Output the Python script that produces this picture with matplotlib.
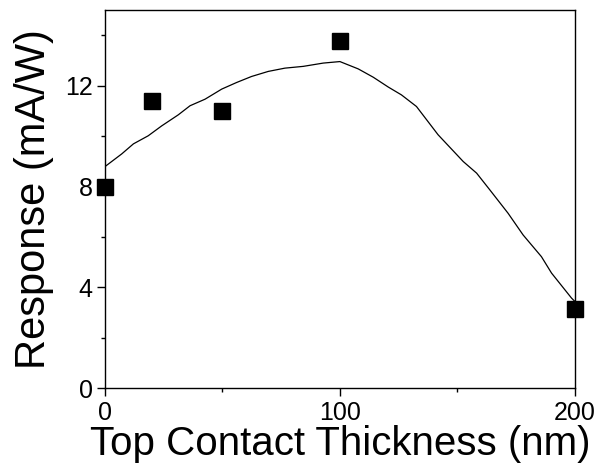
import numpy as np
import matplotlib.pyplot as plt
from matplotlib.ticker import MultipleLocator

# measured points
thick = [0, 20, 50, 100, 200]
resp = [8.0, 11.4, 11.0, 13.75, 3.15]

# model curve
curve_x = [0, 7.1, 12.1, 18.4, 24.1, 31.2, 36.2, 42.6, 49.7, 56.0, 62.4, 69.5,
           76.6, 84.4, 92.9, 100, 107.8, 114.2, 120.6, 126.2, 132.6, 141.8,
           152.5, 158.2, 163.8, 171.6, 178.0, 185.8, 190.1, 198.6, 200]
curve_y = [8.79, 9.29, 9.69, 10.01, 10.40, 10.84, 11.20, 11.46, 11.86, 12.12,
           12.36, 12.56, 12.69, 12.76, 12.89, 12.95, 12.66, 12.33, 11.94, 11.63,
           11.17, 10.05, 8.99, 8.53, 7.87, 6.94, 6.08, 5.22, 4.57, 3.58, 3.45]

plt.rcParams['font.family'] = ['Liberation Sans', 'DejaVu Sans']

fig = plt.figure(figsize=(6, 4.68), dpi=100)
ax = fig.add_axes([0.175, 0.170, 0.783, 0.809])

ax.plot(curve_x, curve_y, color='black', lw=0.9)
ax.plot(thick, resp, 's', color='black', ms=11.5, clip_on=False, zorder=3)

ax.set_xlim(0, 200)
ax.set_ylim(0, 15)
ax.xaxis.set_major_locator(MultipleLocator(100))
ax.xaxis.set_minor_locator(MultipleLocator(50))
ax.yaxis.set_major_locator(MultipleLocator(4))
ax.yaxis.set_minor_locator(MultipleLocator(2))
ax.tick_params(which='major', direction='out', length=6, width=1, labelsize=18)
ax.tick_params(which='minor', direction='out', length=3, width=1)
ax.tick_params(axis='x', which='major', pad=3)
ax.tick_params(axis='y', which='major', pad=3)
for s in ax.spines.values():
    s.set_linewidth(1.0)

ax.set_xlabel('Top Contact Thickness (nm)', fontsize=29, labelpad=0)
ax.set_ylabel('Response (mA/W)', fontsize=30, labelpad=8)

fig.savefig('out.png', dpi=100)
